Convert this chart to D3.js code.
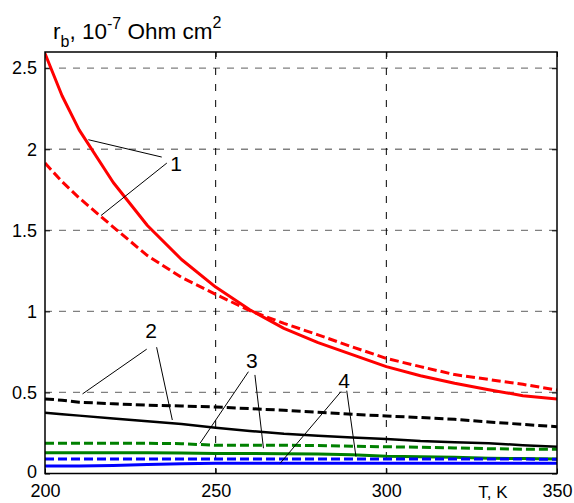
<!DOCTYPE html>
<html>
<head>
<meta charset="utf-8">
<script src="https://cdn.jsdelivr.net/npm/d3@7"></script>
<style>
  body { margin: 0; background: #fff; }
  svg { display: block; font-family: Arial, "Liberation Sans", sans-serif; }
</style>
</head>
<body>
<div id="chart"></div>
<script>
// temperatures, K
var temps = [200, 205, 210, 220, 230, 240, 250, 260, 270, 280, 290, 300, 310, 320, 330, 340, 350];

// r_b values, 10^-7 Ohm cm^2
var red1Solid   = [2.59, 2.33, 2.12, 1.795, 1.53, 1.32, 1.15, 1.01, 0.895, 0.807, 0.733, 0.659, 0.603, 0.557, 0.517, 0.48, 0.46];
var red1Dash    = [1.915, 1.80, 1.70, 1.52, 1.344, 1.21, 1.105, 1.005, 0.926, 0.855, 0.781, 0.71, 0.659, 0.61, 0.58, 0.55, 0.515];
var black2Dash  = [0.46, 0.452, 0.44, 0.43, 0.422, 0.416, 0.41, 0.40, 0.39, 0.378, 0.365, 0.355, 0.345, 0.334, 0.318, 0.303, 0.289];
var black2Solid = [0.375, 0.366, 0.357, 0.34, 0.323, 0.305, 0.282, 0.262, 0.245, 0.233, 0.222, 0.213, 0.20, 0.192, 0.186, 0.175, 0.165];
var green3Dash  = [0.186, 0.186, 0.186, 0.186, 0.186, 0.184, 0.174, 0.174, 0.174, 0.172, 0.168, 0.165, 0.162, 0.158, 0.153, 0.15, 0.149];
var green3Solid = [0.128, 0.128, 0.128, 0.128, 0.128, 0.126, 0.124, 0.123, 0.122, 0.12, 0.116, 0.106, 0.104, 0.10, 0.094, 0.092, 0.09];
var blue4Dash   = [0.09, 0.09, 0.09, 0.09, 0.09, 0.09, 0.09, 0.09, 0.09, 0.09, 0.09, 0.09, 0.09, 0.09, 0.09, 0.089, 0.088];
var blue4Solid  = [0.046, 0.046, 0.046, 0.05, 0.055, 0.06, 0.063, 0.063, 0.063, 0.063, 0.063, 0.063, 0.063, 0.063, 0.063, 0.063, 0.063];

var xTicks = [200, 250, 300, 350];
var yTicks = [0, 0.5, 1, 1.5, 2, 2.5];
var xGrid = [250, 300];
var yGrid = [0.5, 1, 1.5, 2, 2.5];

// curve labels: text position and leader line ends, in data units
var labelText = ["1", "2", "3", "4"];
var labelPos = [[238.4, 1.867], [231.1, 0.836], [260.6, 0.651], [287.6, 0.528]];
var leaders = [
  [[[212.7, 2.059], [234.2, 1.952]], [[216.4, 1.591], [235.7, 1.915]]],
  [[[229.8, 0.767], [211.0, 0.491]], [[232.7, 0.779], [237.3, 0.330]]],
  [[[259.6, 0.628], [245.4, 0.186]], [[261.5, 0.608], [264.0, 0.156]]],
  [[[286.7, 0.505], [268.9, 0.063]], [[288.4, 0.511], [291.1, 0.104]]]
];

var series = [
  {vals: red1Solid,   color: "#ff0000", dash: null, w: 3},
  {vals: red1Dash,    color: "#ff0000", dash: "9,4", w: 3},
  {vals: black2Dash,  color: "#000000", dash: "9,4", w: 3},
  {vals: black2Solid, color: "#000000", dash: null, w: 2.5},
  {vals: green3Dash,  color: "#008000", dash: "9,4", w: 3},
  {vals: green3Solid, color: "#008000", dash: null, w: 3},
  {vals: blue4Dash,   color: "#0000ff", dash: "9,4", w: 3},
  {vals: blue4Solid,  color: "#0000ff", dash: null, w: 3}
];

var width = 574, height = 503;
var margin = {top: 52, right: 17, bottom: 29.5, left: 45};
var innerW = width - margin.left - margin.right;
var innerH = height - margin.top - margin.bottom;

var svg = d3.select("#chart").append("svg")
    .attr("width", width)
    .attr("height", height);

var x = d3.scaleLinear().domain([200, 350]).range([0, innerW]);
var y = d3.scaleLinear().domain([0, 2.6]).range([innerH, 0]);

var g = svg.append("g").attr("transform", "translate(" + margin.left + "," + margin.top + ")");

g.append("clipPath").attr("id", "clip")
  .append("rect").attr("width", innerW).attr("height", innerH);

// grid
g.selectAll(".hgrid").data(yGrid).enter().append("line")
    .attr("x1", 0).attr("x2", innerW)
    .attr("y1", function(d) { return y(d); })
    .attr("y2", function(d) { return y(d); })
    .attr("stroke", "#808080").attr("stroke-width", 1.3)
    .attr("stroke-dasharray", "7,7");

g.selectAll(".vgrid").data(xGrid).enter().append("line")
    .attr("y1", 0).attr("y2", innerH)
    .attr("x1", function(d) { return x(d); })
    .attr("x2", function(d) { return x(d); })
    .attr("stroke", "#000").attr("stroke-width", 1)
    .attr("stroke-dasharray", "7,9");

// axes with inner ticks
var xAxis = g.append("g").attr("transform", "translate(0," + innerH + ")")
    .call(d3.axisBottom(x).tickValues(xTicks).tickSizeInner(-5).tickSizeOuter(0).tickPadding(10.5));
var yAxis = g.append("g")
    .call(d3.axisLeft(y).tickValues(yTicks).tickSizeInner(-5).tickSizeOuter(0).tickPadding(8)
      .tickFormat(d3.format("")));
g.append("g").call(d3.axisTop(x).tickValues(xTicks).tickSizeInner(-5).tickSizeOuter(0).tickFormat(""));
g.append("g").attr("transform", "translate(" + innerW + ",0)")
    .call(d3.axisRight(y).tickValues(yTicks).tickSizeInner(-5).tickSizeOuter(0).tickFormat(""));

g.selectAll(".domain").remove();
g.selectAll(".tick line").attr("stroke", "#000");
[xAxis, yAxis].forEach(function(a) {
  a.selectAll("text").attr("font-size", 18).attr("fill", "#000")
    .attr("font-family", "Arial, 'Liberation Sans', sans-serif");
});
// lift the "0" label a little off the x labels
yAxis.selectAll(".tick").filter(function(d) { return d === 0; })
    .select("text").attr("dy", "0.2em");

// curves
var line = d3.line()
    .x(function(d, i) { return x(temps[i]); })
    .y(function(d) { return y(d); });

g.append("g").attr("clip-path", "url(#clip)")
  .selectAll("path").data(series).enter().append("path")
    .attr("d", function(s) { return line(s.vals); })
    .attr("fill", "none")
    .attr("stroke", function(s) { return s.color; })
    .attr("stroke-width", function(s) { return s.w; })
    .attr("stroke-dasharray", function(s) { return s.dash; })
    .attr("stroke-linejoin", "round");

// frame
g.append("rect").attr("width", innerW).attr("height", innerH)
    .attr("fill", "none").attr("stroke", "#000").attr("stroke-width", 1.5);

// leader lines and labels
leaders.forEach(function(pair) {
  pair.forEach(function(seg) {
    g.append("line")
      .attr("x1", x(seg[0][0])).attr("y1", y(seg[0][1]))
      .attr("x2", x(seg[1][0])).attr("y2", y(seg[1][1]))
      .attr("stroke", "#000").attr("stroke-width", 1);
  });
});
g.selectAll(".lbl").data(labelText).enter().append("text")
    .attr("x", function(d, i) { return x(labelPos[i][0]); })
    .attr("y", function(d, i) { return y(labelPos[i][1]); })
    .attr("text-anchor", "middle")
    .attr("font-size", 21)
    .text(function(d) { return d; });

// axis titles
var title = svg.append("text").attr("x", 53).attr("y", 39).attr("font-size", 22.5);
title.append("tspan").text("r");
title.append("tspan").attr("font-size", 16).attr("dy", 8).text("b");
title.append("tspan").attr("dy", -8).text(", 10");
title.append("tspan").attr("font-size", 16).attr("dy", -10).text("-7");
title.append("tspan").attr("dy", 10).text(" Ohm cm");
title.append("tspan").attr("font-size", 16).attr("dy", -11).text("2");

svg.append("text").attr("x", 493).attr("y", 498)
    .attr("text-anchor", "middle").attr("font-size", 17).text("T, K");
</script>
</body>
</html>
